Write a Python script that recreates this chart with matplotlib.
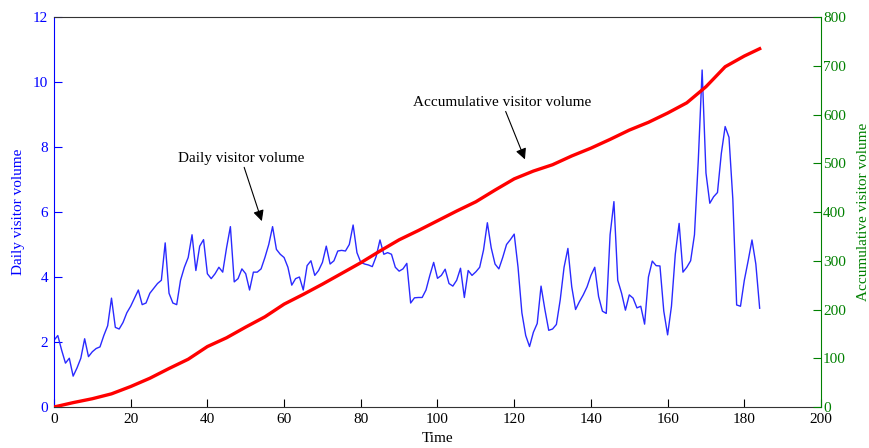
import matplotlib
matplotlib.use("Agg")
import matplotlib.pyplot as plt
import numpy as np

plt.rcParams["font.family"] = ["Liberation Serif", "DejaVu Serif"]
plt.rcParams["font.size"] = 11

# daily visitor volume, one value per day (day 0 .. 184)
daily = [
    2.05, 2.2, 1.75, 1.35, 1.5, 0.95, 1.2, 1.5, 2.1, 1.55,
    1.7, 1.8, 1.85, 2.2, 2.5, 3.35, 2.45, 2.4, 2.6, 2.9,
    3.1, 3.35, 3.6, 3.15, 3.2, 3.5, 3.65, 3.8, 3.9, 5.05,
    3.5, 3.2, 3.15, 3.9, 4.3, 4.6, 5.3, 4.2, 4.95, 5.15,
    4.1, 3.95, 4.1, 4.3, 4.15, 4.9, 5.55, 3.85, 3.95, 4.25,
    4.1, 3.6, 4.15, 4.15, 4.25, 4.6, 5.0, 5.55, 4.85, 4.7,
    4.6, 4.3, 3.75, 3.95, 4.0, 3.6, 4.35, 4.5, 4.05, 4.2,
    4.45, 4.95, 4.4, 4.5, 4.8, 4.82, 4.8, 5.0, 5.6, 4.75,
    4.45, 4.4, 4.37, 4.32, 4.63, 5.14, 4.7, 4.75, 4.7, 4.3,
    4.18, 4.25, 4.42, 3.2, 3.36, 3.37, 3.37, 3.6, 4.05, 4.45,
    3.96, 4.05, 4.24, 3.8, 3.72, 3.9, 4.27, 3.37, 4.2, 4.05,
    4.16, 4.3, 4.83, 5.67, 4.9, 4.4, 4.25, 4.6, 5.0, 5.15,
    5.32, 4.3, 2.9, 2.2, 1.86, 2.3, 2.57, 3.72, 3.0, 2.36,
    2.4, 2.54, 3.3, 4.3, 4.88, 3.7, 3.0, 3.24, 3.45, 3.7,
    4.05, 4.3, 3.4, 2.95, 2.88, 5.3, 6.32, 3.9, 3.5, 2.98,
    3.45, 3.35, 3.05, 3.1, 2.55, 4.0, 4.49, 4.35, 4.34, 2.95,
    2.22, 3.1, 4.7, 5.65, 4.15, 4.3, 4.5, 5.3, 7.6, 10.37,
    7.2, 6.27, 6.47, 6.6, 7.8, 8.63, 8.3, 6.4, 3.14, 3.1,
    3.9, 4.5, 5.14, 4.4, 3.04,
]
days = np.arange(len(daily))

# accumulative visitor volume, every 5 days
cum_days = list(range(0, 185, 5)) + [184]
cum_vals = [0, 9, 17, 27, 42, 59, 79, 98, 124, 142, 164, 185, 211,
            231, 252, 274, 296, 320, 343, 362, 382, 402, 421, 445,
            468, 484, 497, 515, 531, 549, 568, 584, 603, 624, 657,
            698, 720, 735]

x_ticks = list(range(0, 201, 20))
left_ticks = list(range(0, 13, 2))
right_ticks = list(range(0, 801, 100))

BLUE = "#0000ff"
GREEN = "#008000"
AXIS = "#333333"

fig = plt.figure(figsize=(8.69, 4.48), dpi=100)
ax = fig.add_axes([0.0621, 0.0915, 0.8827, 0.8705])
ax2 = ax.twinx()

ax.plot(days, daily, color="#2a2aff", lw=1.0)
ax2.plot(cum_days, cum_vals, color="#ff0000", lw=2.4)

ax.set_xlim(0, 200)
ax.set_ylim(0, 12)
ax2.set_ylim(0, 800)
ax.set_xticks(x_ticks)
ax.set_yticks(left_ticks)
ax2.set_yticks(right_ticks)

ax.tick_params(axis="x", direction="in", length=5.5, color="k", labelcolor="k", pad=4)
ax.tick_params(axis="y", direction="in", length=5.5, color=BLUE, labelcolor=BLUE, pad=4)
ax2.tick_params(axis="y", direction="in", length=5.5, color=GREEN, labelcolor=GREEN, pad=1.5)

for s in ("top", "bottom"):
    ax.spines[s].set_color(AXIS)
    ax2.spines[s].set_visible(False)
ax.spines["left"].set_color(BLUE)
ax.spines["right"].set_visible(False)
ax2.spines["left"].set_visible(False)
ax2.spines["right"].set_color(GREEN)

ax.set_xlabel("Time", labelpad=4.5)
ax.set_ylabel("Daily visitor volume", color=BLUE, labelpad=6)
ax2.set_ylabel("Accumulative visitor volume", color=GREEN, labelpad=8)

arrow = dict(arrowstyle="-|>", color="k", lw=0.8, mutation_scale=16,
             shrinkA=0, shrinkB=0)
ax.annotate("Daily visitor volume", xy=(54.2, 5.72), xytext=(48.8, 7.66),
            ha="center", va="center", arrowprops=arrow)
ax.annotate("Accumulative visitor volume", xy=(122.8, 7.62), xytext=(116.8, 9.38),
            ha="center", va="center", arrowprops=arrow)

fig.savefig("out.png", dpi=100)
